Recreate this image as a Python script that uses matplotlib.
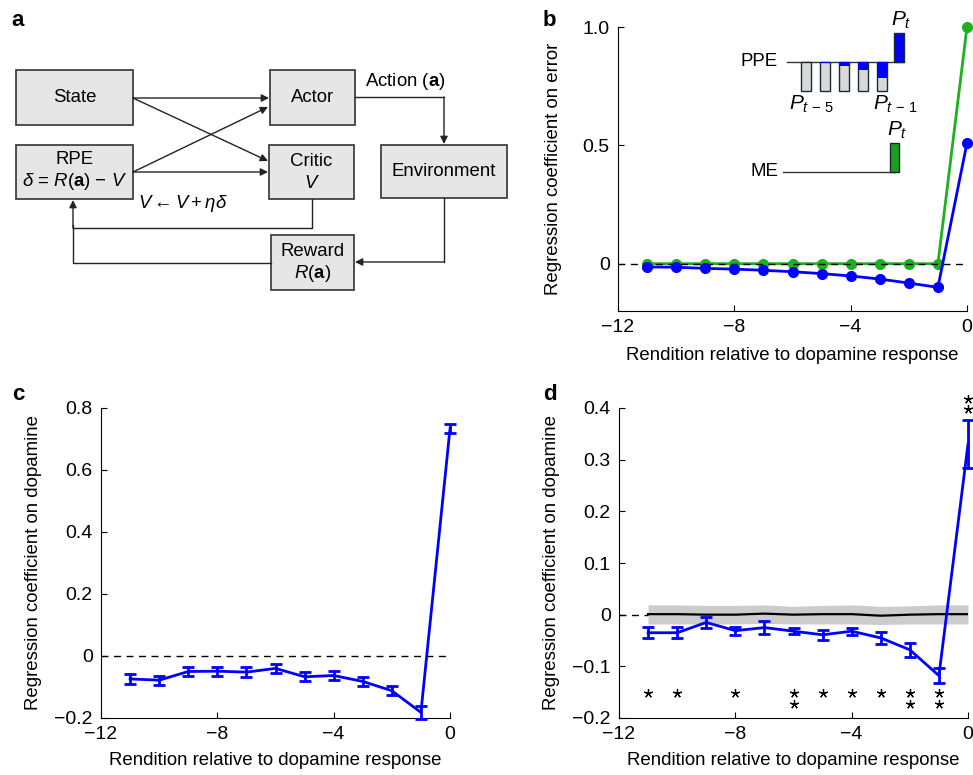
import matplotlib
matplotlib.use("Agg")
import matplotlib.pyplot as plt
import numpy as np

plt.rcParams['font.family'] = ['Liberation Sans', 'DejaVu Sans']
plt.rcParams['mathtext.fontset'] = 'custom'
plt.rcParams['mathtext.rm'] = 'Liberation Sans'
plt.rcParams['mathtext.it'] = 'Liberation Sans:italic'
plt.rcParams['mathtext.bf'] = 'Liberation Sans:bold'
plt.rcParams['axes.unicode_minus'] = True

# ---------------- data ----------------
renditions = [-11, -10, -9, -8, -7, -6, -5, -4, -3, -2, -1, 0]

# panel b: model regression coefficients on error
b_me = [0, 0, 0, 0, 0, 0, 0, 0, 0, 0, 0, 1.0]
b_ppe = [-0.014, -0.015, -0.02, -0.023, -0.028, -0.034, -0.042, -0.052,
         -0.065, -0.082, -0.10, 0.51]

# panel b inset kernels (normalised)
ppe_past_labels = ["$P_{t\\,-\\,5}$", "$P_{t\\,-\\,1}$"]
ppe_past_blue = [0.0, 0.05, 0.14, 0.28, 0.55]   # fraction of each past bar in blue
ppe_past_full = [1, 1, 1, 1, 1]
ppe_current = 1.0
me_current = 1.0

# panel c: regression coefficient on dopamine
c_mean = [-0.074, -0.078, -0.05, -0.049, -0.052, -0.04, -0.067, -0.063,
          -0.082, -0.112, -0.182, 0.733]
c_err = [0.015, 0.015, 0.015, 0.015, 0.015, 0.015, 0.015, 0.015,
         0.015, 0.015, 0.02, 0.015]

# panel d
d_mean = [-0.035, -0.035, -0.015, -0.031, -0.025, -0.032, -0.039, -0.032,
          -0.045, -0.068, -0.118, 0.33]
d_err = [0.011, 0.011, 0.011, 0.008, 0.013, 0.006, 0.010, 0.007,
         0.011, 0.013, 0.015, 0.047]
shuf_mean = [0.001, 0.001, 0.0, 0.0, 0.002, 0.0, 0.001, 0.001, -0.002, 0.0, 0.001, 0.001]
shuf_hi = [0.019, 0.019, 0.018, 0.018, 0.019, 0.016, 0.018, 0.019, 0.016, 0.017, 0.019, 0.019]
shuf_lo = [-0.018, -0.018, -0.018, -0.018, -0.017, -0.018, -0.018, -0.018, -0.019, -0.018, -0.018, -0.018]
d_stars = [1, 1, 0, 1, 0, 2, 1, 1, 1, 2, 2, 2]

xticks = [-12, -8, -4, 0]
xticklabels = ["\u221212", "\u22128", "\u22124", "0"]

BLUE = '#0000ff'
GREEN = '#1fb01f'
MINUS = "\u2212"

W, H = 973, 775
fig = plt.figure(figsize=(W / 100, H / 100), dpi=100)

TICK_FS = 14
LAB_FS = 13.4


def px_axes(l, t, r, b, **kw):
    return fig.add_axes([l / W, 1 - b / H, (r - l) / W, (b - t) / H], **kw)


def style(ax):
    for s in ['top', 'right']:
        ax.spines[s].set_visible(False)
    for s in ['left', 'bottom']:
        ax.spines[s].set_linewidth(0.8)
    ax.tick_params(direction='in', length=4, width=0.8, labelsize=TICK_FS, pad=6)
    ax.set_xlim(-12, 0)
    ax.set_xticks(xticks)
    ax.set_xticklabels(xticklabels)
    ax.set_xlabel("Rendition relative to dopamine response", fontsize=LAB_FS)


# ---------------- panel b ----------------
axb = px_axes(618, 27, 967, 311)
style(axb)
axb.set_ylim(-0.2, 1.0)
axb.set_yticks([0, 0.5, 1.0])
axb.set_yticklabels(["0", "0.5", "1.0"])
axb.axhline(0, color='black', lw=1, ls=(0, (5, 4)), zorder=3)
axb.plot(renditions, b_me, color=GREEN, lw=2, marker='o', ms=7, clip_on=False, zorder=2)
axb.plot(renditions, b_ppe, color=BLUE, lw=2, marker='o', ms=7, clip_on=False, zorder=4)
axb.set_ylabel("Regression coefficient on error", fontsize=LAB_FS)
axb.yaxis.set_label_coords(-0.16, 0.5)
axb.xaxis.set_label_coords(0.5, -0.125)

# ---------------- panel c ----------------
axc = px_axes(101, 408, 450, 718)
style(axc)
axc.set_ylim(-0.2, 0.8)
axc.set_yticks([-0.2, 0, 0.2, 0.4, 0.6, 0.8])
axc.set_yticklabels([MINUS + "0.2", "0", "0.2", "0.4", "0.6", "0.8"])
axc.axhline(0, color='black', lw=1, ls=(0, (5, 4)), zorder=1)
axc.errorbar(renditions, c_mean, yerr=c_err, color=BLUE, lw=2, elinewidth=2,
             capsize=4, capthick=2, clip_on=False, zorder=3)
axc.set_ylabel("Regression coefficient on dopamine", fontsize=LAB_FS)
axc.yaxis.set_label_coords(-0.17, 0.5)
axc.xaxis.set_label_coords(0.5, -0.11)

# ---------------- panel d ----------------
axd = px_axes(619, 408, 968, 718)
style(axd)
axd.set_ylim(-0.2, 0.4)
axd.set_yticks([-0.2, -0.1, 0, 0.1, 0.2, 0.3, 0.4])
axd.set_yticklabels([MINUS + "0.2", MINUS + "0.1", "0", "0.1", "0.2", "0.3", "0.4"])
axd.axhline(0, color='black', lw=1, ls=(0, (5, 4)), zorder=1)
axd.fill_between(renditions, shuf_lo, shuf_hi, color='#cccccc', lw=0, zorder=2)
axd.plot(renditions, shuf_mean, color='black', lw=1.6, zorder=3)
axd.errorbar(renditions, d_mean, yerr=d_err, color=BLUE, lw=2, elinewidth=2,
             capsize=4, capthick=2, clip_on=False, zorder=4)
star_kw = dict(marker=(5, 2, 0), ms=6.5, mew=0.9, color='black', ls='none', clip_on=False)
for x, n in zip(renditions, d_stars):
    if x == 0:
        ys = [0.398, 0.418][:n]
    else:
        ys = [-0.152, -0.173][:n]
    axd.plot([x] * len(ys), ys, **star_kw)
axd.set_ylabel("Regression coefficient on dopamine", fontsize=LAB_FS)
axd.yaxis.set_label_coords(-0.17, 0.5)
axd.xaxis.set_label_coords(0.5, -0.11)

# ---------------- overlay (panel a diagram, inset, panel labels) ----------------
ov = fig.add_axes([0, 0, 1, 1], zorder=10)
ov.set_xlim(0, W)
ov.set_ylim(H, 0)
ov.axis('off')
ov.patch.set_alpha(0)

for lab, (x, y) in zip("abcd", [(18, 20), (549, 20), (18, 394), (550, 394)]):
    ov.text(x, y, lab, fontsize=16, fontweight='bold', ha='center', va='center')

box_fc = '#e6e6e6'
box_ec = '#333333'
boxes = {
    'State': (16, 70, 133, 125),
    'Actor': (270, 70, 355, 125),
    'RPE': (16, 145, 133, 199),
    'Critic': (269, 145, 354, 199),
    'Env': (381, 145, 507, 198),
    'Reward': (271, 235, 354, 290),
}
for k, (l, t, r, b) in boxes.items():
    ov.add_patch(plt.Rectangle((l, t), r - l, b - t, fc=box_fc, ec=box_ec, lw=1.2, zorder=2))

fs = 13.4
ov.text(74.5, 97, "State", ha='center', va='center', fontsize=fs)
ov.text(312.5, 97, "Actor", ha='center', va='center', fontsize=fs)
ov.text(74.5, 160, "RPE", ha='center', va='center', fontsize=fs)
ov.text(74.5, 182, r"$\delta$ = $R$($\mathbf{a}$) " + MINUS + r" $V$",
        ha='center', va='center', fontsize=fs)
ov.text(311.5, 161, "Critic", ha='center', va='center', fontsize=fs)
ov.text(311.5, 183, r"$V$", ha='center', va='center', fontsize=fs)
ov.text(444, 172, "Environment", ha='center', va='center', fontsize=fs)
ov.text(312.5, 251, "Reward", ha='center', va='center', fontsize=fs)
ov.text(312.5, 273, r"$R$($\mathbf{a}$)", ha='center', va='center', fontsize=fs)
ov.text(365, 81, r"Action ($\mathbf{a}$)", ha='left', va='center', fontsize=fs)
ov.text(138, 203, r"$V \leftarrow V + \eta\delta$", ha='left', va='center', fontsize=fs)

arrow_kw = dict(arrowstyle='-|>', lw=1.0, color='#222222', mutation_scale=11,
                shrinkA=0, shrinkB=0)


def arrow(x0, y0, x1, y1):
    ov.annotate("", xy=(x1, y1), xytext=(x0, y0), arrowprops=arrow_kw, zorder=3)


def line(xs, ys):
    ov.plot(xs, ys, color='#222222', lw=1.0, zorder=3)


arrow(133, 98, 269, 98)
arrow(133, 98, 268, 161)
arrow(133, 172, 268, 107)
arrow(133, 172, 268, 172)
line([355, 444], [97, 97])
arrow(444, 97, 444, 144)
line([444, 444], [198, 262])
arrow(444, 262, 355, 262)
line([312, 312, 73], [199, 228, 228])
line([271, 73, 73], [263, 263, 225])
arrow(73, 228, 73, 200)

# inset: PPE kernel
ppe_y = 62
bar_h = 29
bar_w = 10
past_x = [805.5, 824.5, 843.5, 862.5, 881.5]
cur_x = 899
ov.plot([787, 904], [ppe_y, ppe_y], color='#333333', lw=1.0, zorder=3)
ov.text(778, ppe_y, "PPE", ha='right', va='center', fontsize=fs)
for x, full, frac in zip(past_x, ppe_past_full, ppe_past_blue):
    ov.bar(x, full * bar_h, bottom=ppe_y, width=bar_w, color='#d9d9d9',
           edgecolor='#1a2a3a', lw=1.0, zorder=3)
    if frac > 0:
        ov.bar(x, frac * bar_h, bottom=ppe_y, width=bar_w, color=BLUE, lw=0, zorder=4)
ov.bar(cur_x, -ppe_current * bar_h, bottom=ppe_y, width=bar_w, color=BLUE,
       edgecolor='#1a2a3a', lw=1.0, zorder=4)
ov.text(cur_x + 2, 20, "$P_t$", ha='center', va='center', fontsize=15)
ov.text(past_x[0] + 6, 104, ppe_past_labels[0], ha='center', va='center', fontsize=15)
ov.text(past_x[-1] + 14, 104, ppe_past_labels[1], ha='center', va='center', fontsize=15)

# inset: ME kernel
me_y = 172
ov.plot([783, 895], [me_y, me_y], color='#333333', lw=1.0, zorder=3)
ov.text(778, me_y, "ME", ha='right', va='center', fontsize=fs)
ov.bar(894.5, -me_current * bar_h, bottom=me_y, width=9, color='#1aa01a',
       edgecolor='#1a2a3a', lw=1.0, zorder=4)
ov.text(897, 130, "$P_t$", ha='center', va='center', fontsize=15)

fig.savefig("out.png", dpi=100)
